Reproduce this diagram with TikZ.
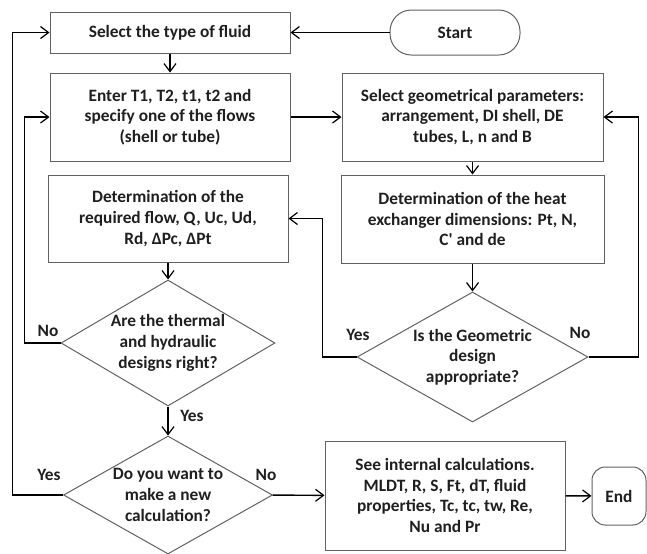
\documentclass[tikz,border=0pt]{standalone}
\usepackage{fontspec}
\setmainfont{Carlito}
\usetikzlibrary{shapes.geometric,arrows.meta}

\begin{document}
\begin{tikzpicture}[x=0.75pt,y=0.75pt,yscale=-1,xscale=1,
    txt/.style={text=black!88,font=\fontsize{13}{15.5}\selectfont\bfseries,align=center},
    procbox/.style={txt,draw=black!62,line width=0.75pt,inner sep=2pt},
    termbox/.style={procbox,rounded corners=10pt},
    decision/.style={txt,draw=black!62,line width=0.75pt,shape=diamond,aspect=1.7,inner sep=0pt},
    link/.style={draw=black,line width=1.1pt,-{Straight Barb[length=6pt,width=9pt,line width=0.9pt]}},
    lbl/.style={txt,inner sep=0.75pt}]
        %uncomment if require: \path (0,554); %set diagram left start at 0, and has height of 554
        \useasboundingbox (0,0) rectangle (647,554);

        %Shape: Rectangle [id:fluid]
        \node[procbox,minimum width=180pt,minimum height=30.75pt] (fluid) at (170,32.5) {Select the type of fluid};
        %Shape: Rounded Rect [id:start]
        \node[procbox,rounded corners=16pt,minimum width=97.5pt,minimum height=33.75pt] (start) at (455,32.5) {Start};
        %Shape: Rectangle [id:enter]
        \node[procbox,minimum width=180pt,minimum height=66pt] (enter) at (170,117) {Enter T1, T2, t1, t2 and\\ specify one of the flows\\ (shell or tube)};
        %Shape: Rectangle [id:geom]
        \node[procbox,minimum width=195.75pt,minimum height=66pt] (geom) at (472.5,117) {Select geometrical parameters:\\ arrangement, DI shell, DE\\ tubes, L, n and B};
        %Shape: Rectangle [id:reqflow]
        \node[procbox,minimum width=180pt,minimum height=65.25pt] (reqflow) at (168,218.5) {Determination of the\\ required flow, Q, Uc, Ud,\\ Rd, ΔPc, ΔPt};
        %Shape: Rectangle [id:dims]
        \node[procbox,minimum width=197.25pt,minimum height=66pt] (dims) at (472.5,219) {Determination of the heat\\ exchanger dimensions: Pt, N,\\ C\textquotesingle{} and de};
        %Shape: Diamond [id:thermal]
        \node[decision,minimum width=160.5pt,minimum height=94.5pt] (thermal) at (168,343) {Are the thermal\\ and hydraulic\\ designs right?};
        %Shape: Diamond [id:geomok]
        \node[decision,minimum width=173.25pt,minimum height=97.5pt] (geomok) at (472.5,357) {Is the Geometric\\ design\\ appropriate?};
        %Shape: Diamond [id:newcalc]
        \node[decision,minimum width=156.75pt,minimum height=88.5pt] (newcalc) at (168,495) {Do you want to\\ make a new\\ calculation?};
        %Shape: Rectangle [id:internal]
        \node[procbox,minimum width=180pt,minimum height=81.75pt] (internal) at (445,495.5) {See internal calculations.\\ MLDT, R, S, Ft, dT, fluid\\ properties, Tc, tc, tw, Re,\\ Nu and Pr};
        %Shape: Rounded Rect [id:finish]
        \node[termbox,minimum width=40.5pt,minimum height=43.5pt] (finish) at (619,496) {End};

        %Straight Lines
        \draw[link] (start) -- (fluid);
        \draw[link] (fluid) -- (enter);
        \draw[link] (enter) -- (geom);
        \draw[link] (geom) -- (dims);
        \draw[link] (reqflow) -- (thermal);
        \draw[link] (dims) -- (geomok);
        \draw[link] (thermal) -- (newcalc);
        \draw[link] (newcalc) -- (internal);
        \draw[link] (internal) -- (finish);
        %Elbow Lines
        \draw[link] (thermal.west) -- ++(-36,0) |- (enter.west);
        \draw[link] (newcalc.west) -- ++(-50.5,0) |- (fluid.west);
        \draw[link] (geomok.west) -- ++(-34,0) |- (reqflow.east);
        \draw[link] (geomok.east) -- ++(50,0) |- (geom.east);

        % Text Node
        \node[lbl] (noA) at (48,331) {No};
        % Text Node
        \node[lbl] (yesA) at (192,416) {Yes};
        % Text Node
        \node[lbl] (yesB) at (49,475) {Yes};
        % Text Node
        \node[lbl] (noB) at (266,475) {No};
        % Text Node
        \node[lbl] (yesC) at (358,335) {Yes};
        % Text Node
        \node[lbl] (noC) at (580,333) {No};

\end{tikzpicture}
\end{document}
